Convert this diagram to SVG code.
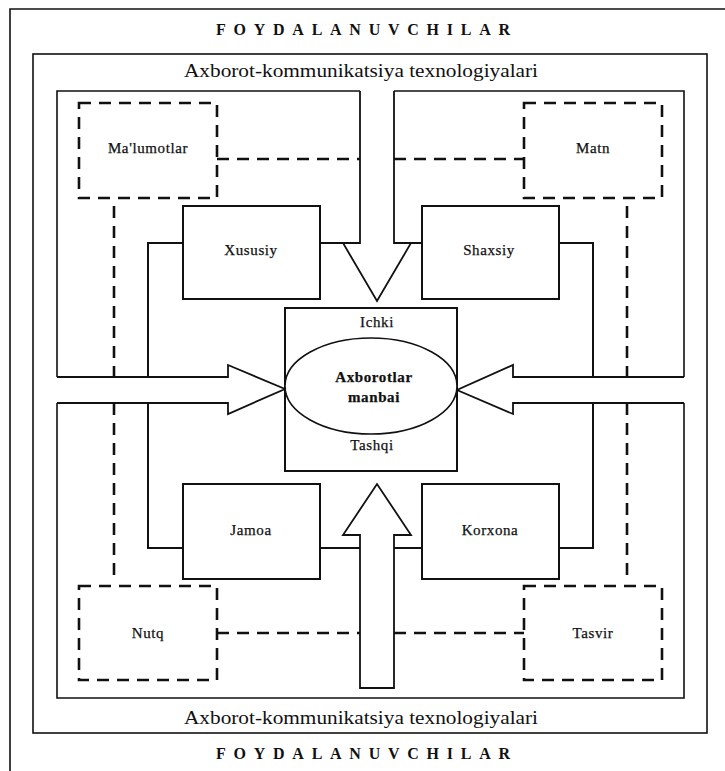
<svg xmlns="http://www.w3.org/2000/svg" width="725" height="771" viewBox="0 0 725 771">
<style>
  .bg { fill: #ffffff; }
  .frame { fill: none; stroke: #111; stroke-width: 1.6; }
  .box { fill: #ffffff; stroke: #111; stroke-width: 2; }
  .line { fill: none; stroke: #111; stroke-width: 2; }
  .dash { fill: none; stroke: #111; stroke-width: 2.6; stroke-dasharray: 12 8; }
  .arrow { fill: #ffffff; stroke: #111; stroke-width: 1.8; stroke-linejoin: miter; }
  .lbl { font-family: "Liberation Serif", "DejaVu Serif", serif; font-size: 15px; fill: #111; stroke: #111; stroke-width: 0.25; text-anchor: middle; letter-spacing: 0.6px; }
  .title { font-family: "Liberation Serif", serif; font-size: 16px; font-weight: bold; fill: #111; text-anchor: middle; }
  .ikt { font-family: "Liberation Serif", serif; font-size: 18px; fill: #111; text-anchor: middle; }
  .bold { font-weight: bold; font-size: 15px; }
</style>
<rect class="bg" x="0" y="0" width="725" height="771"/>

<g id="frames">
  <path class="frame" d="M10,771 V9 H725"/>
  <rect class="frame" x="33" y="54" width="674" height="679"/>
  <path class="frame" d="M360,91 H57 V377 M57,403 V698 H684 V403 M684,377 V91 H394"/>
</g>

<g id="texts-outer">
  <text class="title" x="363" y="35" textLength="294" lengthAdjust="spacing">FOYDALANUVCHILAR</text>
  <text class="ikt" x="361" y="77" textLength="354" lengthAdjust="spacingAndGlyphs">Axborot-kommunikatsiya texnologiyalari</text>
  <text class="ikt" x="361" y="724" textLength="354" lengthAdjust="spacingAndGlyphs">Axborot-kommunikatsiya texnologiyalari</text>
  <text class="title" x="363" y="759" textLength="294" lengthAdjust="spacing">FOYDALANUVCHILAR</text>
</g>

<g id="connectors">
  <path class="dash" d="M217,159 H360 M394,159 H524"/>
  <path class="dash" d="M217,633 H360 M394,633 H524"/>
  <path class="dash" d="M114,206 V377 M114,403 V580"/>
  <path class="dash" d="M627,206 V377 M627,403 V580"/>
  <path class="line" d="M183,243 H148 V377 M148,403 V548 H183"/>
  <path class="line" d="M559,243 H593 V377 M593,403 V548 H559"/>
  <path class="line" d="M320,243 H360 M394,243 H422"/>
  <path class="line" d="M320,548 H360 M394,548 H422"/>
</g>

<g id="arrow-top">
  <path class="arrow" d="M360,91 V243 H343 L377,301 L411,243 H394 V91"/>
</g>
<g id="arrow-bottom">
  <path class="arrow" d="M360,688 V535 H343 L377,484 L411,535 H394 V688 Z"/>
</g>
<g id="arrow-left">
  <path class="arrow" d="M57,377 H228 V365 L285,389 L228,414 V403 H57"/>
</g>
<g id="arrow-right">
  <path class="arrow" d="M684,377 H513 V365 L457,390 L513,414 V403 H684"/>
</g>

<g id="node-malumotlar">
  <rect class="dash" x="79" y="103" width="138" height="95"/>
  <text class="lbl" x="148" y="153">Ma'lumotlar</text>
</g>
<g id="node-matn">
  <rect class="dash" x="524" y="103" width="138" height="95"/>
  <text class="lbl" x="593" y="153">Matn</text>
</g>
<g id="node-nutq">
  <rect class="dash" x="79" y="586" width="138" height="94"/>
  <text class="lbl" x="148" y="638">Nutq</text>
</g>
<g id="node-tasvir">
  <rect class="dash" x="524" y="586" width="138" height="94"/>
  <text class="lbl" x="593" y="638">Tasvir</text>
</g>

<g id="node-xususiy">
  <rect class="box" x="183" y="206" width="137" height="93"/>
  <text class="lbl" x="251" y="255">Xususiy</text>
</g>
<g id="node-shaxsiy">
  <rect class="box" x="422" y="206" width="137" height="93"/>
  <text class="lbl" x="489" y="255">Shaxsiy</text>
</g>
<g id="node-jamoa">
  <rect class="box" x="183" y="484" width="137" height="95"/>
  <text class="lbl" x="251" y="535">Jamoa</text>
</g>
<g id="node-korxona">
  <rect class="box" x="422" y="484" width="137" height="95"/>
  <text class="lbl" x="490" y="535">Korxona</text>
</g>

<g id="node-center">
  <rect class="box" x="285" y="308" width="172" height="163"/>
  <text class="lbl" x="377" y="327">Ichki</text>
  <ellipse fill="#ffffff" stroke="#111" stroke-width="1.6" cx="371" cy="386" rx="86" ry="48"/>
  <text class="lbl bold" x="374" y="382">Axborotlar</text>
  <text class="lbl bold" x="374" y="402">manbai</text>
  <text class="lbl" x="372" y="450">Tashqi</text>
</g>
</svg>
